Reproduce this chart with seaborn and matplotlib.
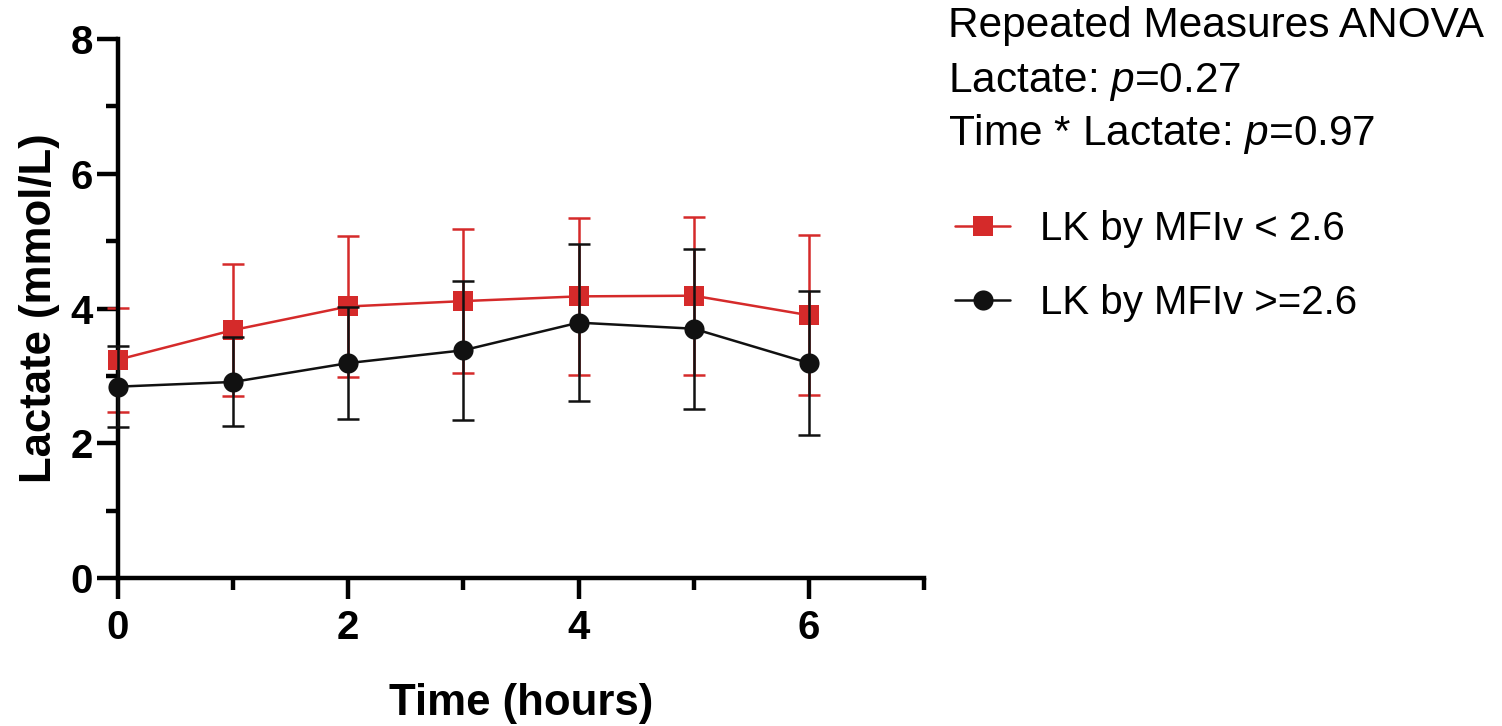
import matplotlib
matplotlib.use("Agg")
import matplotlib.pyplot as plt
import numpy as np
import seaborn as sns
from matplotlib.ticker import MultipleLocator

# data (mean +/- SD, mmol/L)
hours = [0, 1, 2, 3, 4, 5, 6]
low_mean = [3.24, 3.68, 4.03, 4.11, 4.18, 4.19, 3.90]
low_sd = [0.77, 0.98, 1.05, 1.07, 1.17, 1.17, 1.19]
high_mean = [2.84, 2.91, 3.19, 3.38, 3.79, 3.70, 3.19]
high_sd = [0.60, 0.66, 0.83, 1.03, 1.16, 1.19, 1.07]
labels = ["LK by MFIv < 2.6", "LK by MFIv >=2.6"]
anova_lines = ["Repeated Measures ANOVA",
               r"Lactate: $\mathit{p}$=0.27",
               r"Time * Lactate: $\mathit{p}$=0.97"]

RED = "#d52a2a"
BLACK = "#111111"

sns.set_style("ticks")
plt.rcParams["font.family"] = ["Liberation Sans", "DejaVu Sans"]
plt.rcParams["mathtext.fontset"] = "custom"
plt.rcParams["mathtext.rm"] = "Liberation Sans"
plt.rcParams["mathtext.it"] = "Liberation Sans:italic"
for key in ["text.color", "axes.labelcolor", "xtick.color", "ytick.color", "axes.edgecolor"]:
    plt.rcParams[key] = "black"

fig = plt.figure(figsize=(15.02, 7.26), dpi=100)
ax = fig.add_axes([118 / 1502, 148 / 726, 806 / 1502, 539 / 726])

series = [
    (low_mean, low_sd, RED, "s", labels[0], 2),
    (high_mean, high_sd, BLACK, "o", labels[1], 4),
]
for mean, sd, color, marker, label, z in series:
    eb = ax.errorbar(hours, mean, yerr=sd, fmt="none", ecolor=color,
                     elinewidth=1.8, capsize=8, capthick=1.8, zorder=z)
    for child in eb.get_children():
        child.set_clip_on(False)
    sns.lineplot(x=hours, y=mean, color=color, marker=marker, markersize=14.5,
                 markeredgewidth=0, linewidth=1.8, label=label, ax=ax,
                 zorder=z + 1)

for line in ax.lines:
    line.set_clip_on(False)

ax.set_xlim(0, 7)
ax.set_ylim(0, 8)
ax.xaxis.set_major_locator(MultipleLocator(2))
ax.xaxis.set_minor_locator(MultipleLocator(1))
ax.yaxis.set_major_locator(MultipleLocator(2))
ax.yaxis.set_minor_locator(MultipleLocator(1))
sns.despine(ax=ax)
for side in ["left", "bottom"]:
    ax.spines[side].set_linewidth(3.2)
ax.tick_params(which="major", length=15, width=3.2, labelsize=29)
ax.tick_params(which="minor", length=8.5, width=3.2)
ax.tick_params(axis="x", which="major", pad=7)
ax.tick_params(axis="y", which="major", pad=3)
plt.setp(ax.get_xticklabels() + ax.get_yticklabels(), fontweight="bold")

ax.set_xlabel("Time (hours)", fontsize=31.5, fontweight="bold", labelpad=26)
ax.set_ylabel("Lactate (mmol/L)", fontsize=31.5, fontweight="bold", labelpad=8)

# statistics block
for txt, yb in zip(anova_lines, [0.949, 0.873, 0.800]):
    fig.text(948 / 1502, yb, txt, fontsize=30.5, va="baseline", ha="left")

handles, labs = ax.get_legend_handles_labels()
ax.legend_.remove()
fig.legend(handles, labs, loc="upper left", bbox_to_anchor=(955 / 1502, 1 - 210 / 726),
           frameon=False, fontsize=29, handlelength=1.37, handletextpad=0.75,
           labelspacing=0.9, borderpad=0, borderaxespad=0)

fig.savefig("out.png", dpi=100)
